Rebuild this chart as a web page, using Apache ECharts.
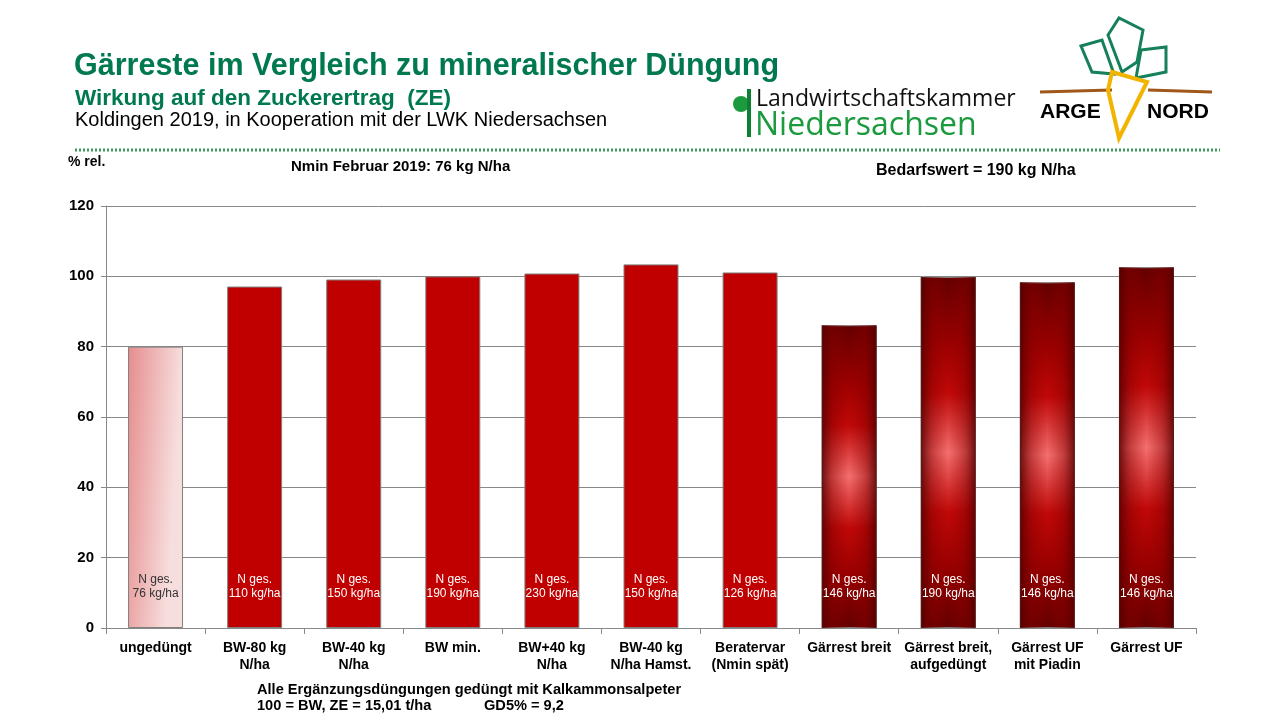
<!DOCTYPE html>
<html>
<head>
<meta charset="utf-8">
<title>Gärreste im Vergleich zu mineralischer Düngung</title>
<script src="https://cdn.jsdelivr.net/npm/echarts@6/dist/echarts.min.js"></script>
<style>
  html, body { margin: 0; padding: 0; background: #fff; }
  #chart { width: 1280px; height: 720px; }
</style>
</head>
<body>
<div id="chart"></div>
<script>
// Kategorien (Varianten)
var categories = [
    'ungedüngt', 'BW-80 kg\nN/ha', 'BW-40 kg\nN/ha', 'BW min.', 'BW+40 kg\nN/ha',
    'BW-40 kg\nN/ha Hamst.', 'Beratervar\n(Nmin spät)', 'Gärrest breit',
    'Gärrest breit,\naufgedüngt', 'Gärrest UF\nmit Piadin', 'Gärrest UF'
];
// Zuckerertrag % rel.
var zeRel = [80, 97.1, 99.1, 100, 100.8, 103.4, 101.1, 86.1, 99.8, 98.3, 102.6];
// N gesamt kg/ha
var nGes = [76, 110, 150, 190, 230, 150, 126, 146, 190, 146, 146];
// Variantentyp: 0 = ungedüngt, 1 = mineralisch, 2 = Gärrest
var varType = [0, 1, 1, 1, 1, 1, 1, 2, 2, 2, 2];
var yTicks = [0, 20, 40, 60, 80, 100, 120];

var colPink = {
    type: 'linear', x: 0, y: 0, x2: 1, y2: 0.012,
    colorStops: [{offset: 0, color: '#e68c8c'}, {offset: 1, color: '#f7dede'}]
};
var colGaerrest = {
    type: 'linear', x: 0, y: 0, x2: 0, y2: 1,
    colorStops: [
        {offset: 0, color: '#620000'},
        {offset: 0.2, color: '#9e0000'},
        {offset: 0.33, color: '#c00808'},
        {offset: 0.5, color: '#f57070'},
        {offset: 0.67, color: '#c00808'},
        {offset: 0.82, color: '#9a0000'},
        {offset: 1, color: '#620000'}
    ]
};
// Abdunklung der Ränder
var colEdge = {
    type: 'linear', x: 0, y: 0, x2: 1, y2: 0,
    colorStops: [
        {offset: 0, color: 'rgba(80,0,0,0.85)'},
        {offset: 0.2, color: 'rgba(130,0,0,0.45)'},
        {offset: 0.42, color: 'rgba(150,0,0,0.12)'},
        {offset: 0.5, color: 'rgba(150,0,0,0)'},
        {offset: 0.58, color: 'rgba(150,0,0,0.12)'},
        {offset: 0.8, color: 'rgba(130,0,0,0.45)'},
        {offset: 1, color: 'rgba(80,0,0,0.85)'}
    ]
};

var mainData = zeRel.map(function (v, i) {
    var c = varType[i] === 0 ? colPink : (varType[i] === 1 ? '#c00000' : colGaerrest);
    return {value: v, itemStyle: {color: c}};
});
var overlayData = zeRel.map(function (v, i) {
    return {
        value: v,
        itemStyle: {color: varType[i] === 2 ? colEdge : 'rgba(0,0,0,0)'},
        label: {color: varType[i] === 0 ? '#333333' : '#ffffff'}
    };
});

var green = '#00794f';
var font = 'Liberation Sans, Arial, sans-serif';

var myChart = echarts.init(document.getElementById('chart'));
var option = {
    animation: false,
    backgroundColor: '#ffffff',
    grid: {left: 106, right: 84, top: 206, bottom: 92},
    xAxis: {
        type: 'category',
        data: categories,
        axisLine: {lineStyle: {color: '#888888'}},
        axisTick: {show: true, length: 6, lineStyle: {color: '#888888'}},
        axisLabel: {
            interval: 0, margin: 12, color: '#000',
            fontFamily: font, fontWeight: 'bold', fontSize: 14, lineHeight: 17
        }
    },
    yAxis: {
        type: 'value', min: 0, max: 120, interval: 20,
        axisLine: {show: true, lineStyle: {color: '#888888'}},
        axisTick: {show: true, length: 5, lineStyle: {color: '#888888'}},
        splitLine: {lineStyle: {color: '#888888'}},
        axisLabel: {
            margin: 12, color: '#000', fontFamily: font, fontWeight: 'bold', fontSize: 15,
            formatter: function (v) { return yTicks.indexOf(v) >= 0 ? String(v) : ''; }
        }
    },
    series: [{
        type: 'bar',
        data: mainData,
        barWidth: 55,
        barGap: '-100%',
        itemStyle: {borderColor: '#808080', borderWidth: 1}
    }, {
        type: 'bar',
        data: overlayData,
        barWidth: 55,
        barGap: '-100%',
        label: {
            show: true,
            position: 'insideBottom',
            distance: 27,
            fontFamily: font,
            fontSize: 12,
            lineHeight: 14,
            formatter: function (p) { return 'N ges.\n' + nGes[p.dataIndex] + ' kg/ha'; }
        }
    }],
    graphic: [
        {type: 'text', left: 74, top: 51, style: {text: 'Gärreste im Vergleich zu mineralischer Düngung', font: 'bold 30.5px ' + font, fill: green}},
        {type: 'text', left: 75, top: 87, style: {text: 'Wirkung auf den Zuckerertrag  (ZE)', font: 'bold 22.5px ' + font, fill: green}},
        {type: 'text', left: 75, top: 110, style: {text: 'Koldingen 2019, in Kooperation mit der LWK Niedersachsen', font: '20px ' + font, fill: '#000'}},
        // gepunktete Linie
        {type: 'line', shape: {x1: 75, y1: 150, x2: 1220, y2: 150}, style: {stroke: '#3e9a5e', lineWidth: 3, lineDash: [2, 2]}},
        {type: 'text', left: 68, top: 155, style: {text: '% rel.', font: 'bold 14px ' + font, fill: '#000'}},
        {type: 'text', left: 291, top: 159, style: {text: 'Nmin Februar 2019: 76 kg N/ha', font: 'bold 15px ' + font, fill: '#000'}},
        {type: 'text', left: 876, top: 163, style: {text: 'Bedarfswert = 190 kg N/ha', font: 'bold 16px ' + font, fill: '#000'}},
        {type: 'text', left: 257, top: 682, style: {text: 'Alle Ergänzungsdüngungen gedüngt mit Kalkammonsalpeter', font: 'bold 14.6px ' + font, fill: '#000'}},
        {type: 'text', left: 257, top: 698, style: {text: '100 = BW, ZE = 15,01 t/ha', font: 'bold 14.6px ' + font, fill: '#000'}},
        {type: 'text', left: 484, top: 698, style: {text: 'GD5% = 9,2', font: 'bold 14.6px ' + font, fill: '#000'}},
        // Logo LWK
        {type: 'circle', shape: {cx: 741, cy: 104, r: 8}, style: {fill: '#1b9a3e'}},
        {type: 'rect', shape: {x: 747, y: 89, width: 4, height: 48}, style: {fill: '#0f7f33'}},
        {type: 'text', left: 756, top: 88, style: {text: 'Landwirtschaftskammer', font: '23px Open Sans, sans-serif', fill: '#111'}},
        {type: 'text', left: 755, top: 110, style: {text: 'Niedersachsen', font: '32px Open Sans, sans-serif', fill: '#1b9a3e'}},
        // Logo ARGE NORD
        {type: 'polyline', shape: {points: [[1040, 92], [1112, 90]]}, style: {stroke: '#a0581a', lineWidth: 3}},
        {type: 'polyline', shape: {points: [[1148, 90], [1212, 92]]}, style: {stroke: '#a0581a', lineWidth: 3}},
        {type: 'polygon', shape: {points: [[1108, 35], [1119, 18], [1143, 30], [1137, 62], [1122, 72]]}, style: {fill: 'none', stroke: '#15805a', lineWidth: 3}},
        {type: 'polygon', shape: {points: [[1081, 46], [1102, 40], [1114, 74], [1092, 72]]}, style: {fill: 'none', stroke: '#15805a', lineWidth: 3}},
        {type: 'polygon', shape: {points: [[1141, 50], [1166, 47], [1166, 72], [1136, 78]]}, style: {fill: 'none', stroke: '#15805a', lineWidth: 3}},
        {type: 'polygon', shape: {points: [[1112, 72], [1147, 82], [1119, 138], [1108, 90]]}, style: {fill: 'none', stroke: '#f2b400', lineWidth: 4}},
        {type: 'text', left: 1040, top: 102, style: {text: 'ARGE', font: 'bold 21px ' + font, fill: '#000'}},
        {type: 'text', left: 1147, top: 102, style: {text: 'NORD', font: 'bold 21px ' + font, fill: '#000'}}
    ]
};
myChart.setOption(option);
</script>
</body>
</html>
